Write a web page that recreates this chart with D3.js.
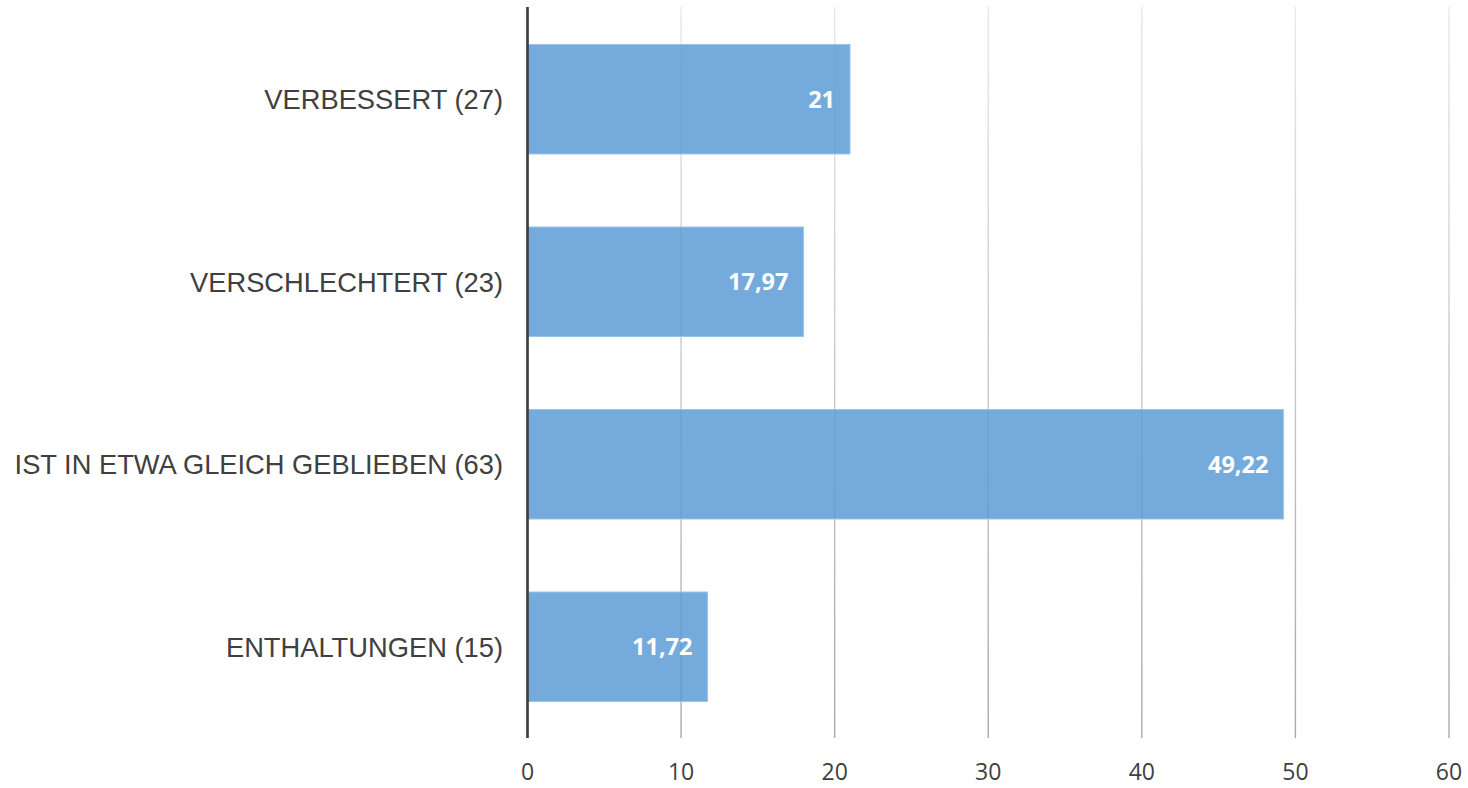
<!DOCTYPE html>
<meta charset="utf-8">
<script src="https://d3js.org/d3.v7.min.js"></script>
<style>
  body { margin: 0; background: #fff; }
</style>
<body>
<div id="my_dataviz"></div>
<script>

// data
var categories = ["VERBESSERT (27)", "VERSCHLECHTERT (23)", "IST IN ETWA GLEICH GEBLIEBEN (63)", "ENTHALTUNGEN (15)"];
var values = [21, 17.97, 49.22, 11.72];
var valueLabels = ["21", "17,97", "49,22", "11,72"];
var ticks = [0, 10, 20, 30, 40, 50, 60];

var width = 1468, height = 788;

var svg = d3.select("#my_dataviz")
  .append("svg")
    .attr("width", width)
    .attr("height", height);

// gridline gradient (light at top, darker at bottom)
var defs = svg.append("defs");
var grad = defs.append("linearGradient")
    .attr("id", "gridGrad")
    .attr("gradientUnits", "userSpaceOnUse")
    .attr("x1", 0).attr("y1", 8)
    .attr("x2", 0).attr("y2", 738);
grad.append("stop").attr("offset", "0%").attr("stop-color", "#e8e8e8");
grad.append("stop").attr("offset", "100%").attr("stop-color", "#a9a9a9");

var x = d3.scaleLinear()
  .domain([0, 60])
  .range([527.5, 1449]);

var y = d3.scaleBand()
  .domain(categories)
  .range([8, 738])
  .paddingInner(0.4)
  .paddingOuter(0.2);

// gridlines
svg.append("g")
  .selectAll("line")
  .data(ticks.slice(1))
  .enter()
  .append("line")
    .attr("x1", function(d) { return x(d); })
    .attr("x2", function(d) { return x(d); })
    .attr("y1", 7)
    .attr("y2", 738)
    .attr("stroke", "url(#gridGrad)")
    .attr("stroke-width", 1.4);

// bars
svg.append("g")
  .selectAll("rect")
  .data(values)
  .enter()
  .append("rect")
    .attr("x", x(0))
    .attr("y", function(d, i) { return y(categories[i]); })
    .attr("width", function(d) { return x(d) - x(0); })
    .attr("height", y.bandwidth())
    .attr("fill", "#5b9bd5")
    .attr("fill-opacity", 0.84)
    .attr("stroke", "#9cc3e6")
    .attr("stroke-width", 1);

// value labels
svg.append("g")
  .selectAll("text")
  .data(values)
  .enter()
  .append("text")
    .attr("x", function(d) { return x(d) - 15; })
    .attr("y", function(d, i) { return y(categories[i]) + y.bandwidth() / 2; })
    .attr("dy", "0.36em")
    .attr("text-anchor", "end")
    .attr("fill", "#ffffff")
    .style("font-family", "'Open Sans', sans-serif")
    .style("font-weight", "bold")
    .style("font-size", "23.5px")
    .text(function(d, i) { return valueLabels[i]; });

// category labels
svg.append("g")
  .selectAll("text")
  .data(categories)
  .enter()
  .append("text")
    .attr("x", 503)
    .attr("y", function(d) { return y(d) + y.bandwidth() / 2; })
    .attr("dy", "0.36em")
    .attr("text-anchor", "end")
    .attr("fill", "#404040")
    .style("font-family", "'Liberation Sans', Arial, sans-serif")
    .style("font-size", "27.3px")
    .text(function(d) { return d; });

// tick labels
svg.append("g")
  .selectAll("text")
  .data(ticks)
  .enter()
  .append("text")
    .attr("x", function(d) { return x(d); })
    .attr("y", 780)
    .attr("text-anchor", "middle")
    .attr("fill", "#404040")
    .style("font-family", "'Open Sans', sans-serif")
    .style("font-size", "23px")
    .text(function(d) { return d; });

// vertical axis line
svg.append("line")
  .attr("x1", x(0))
  .attr("x2", x(0))
  .attr("y1", 7)
  .attr("y2", 738)
  .attr("stroke", "#404040")
  .attr("stroke-width", 2.7);

</script>
</body>
